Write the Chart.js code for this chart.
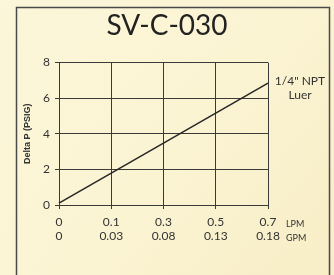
<!DOCTYPE html>
<html>
<head>
<meta charset="utf-8">
<script src="https://cdn.jsdelivr.net/npm/chart.js@4"></script>
<style>
  html, body { margin: 0; padding: 0; background: #fbf5d8; }
  #wrap { width: 334px; height: 275px; }
</style>
</head>
<body>
<div id="wrap"><canvas id="chart" width="334" height="275"></canvas></div>
<script>
var title_text = "SV-C-030";
var y_title = "Delta P (PSIG)";
var lpm_labels = ["0", "0.1", "0.3", "0.5", "0.7"];
var gpm_labels = ["0", "0.03", "0.08", "0.13", "0.18"];
var flow_pos = [0, 4];          // index on the flow axis
var delta_p = [0.1, 6.85];      // psig
var series_label = ["1/4\" NPT", "Luer"];
var unit_labels = ["LPM", "GPM"];

var txt_clr = "#333333";
var line_clr = "#262626";
var grid_clr = "#3a3a3a";

// background + panel frame
var panel_bg = {
  id: "panel_bg",
  beforeDraw: function(chart) {
    var c = chart.ctx;
    var g = c.createLinearGradient(0, 0, chart.width, chart.height);
    g.addColorStop(0, "#fcf6da");
    g.addColorStop(0.5, "#fbf4d3");
    g.addColorStop(1, "#f8eec7");
    c.save();
    c.fillStyle = g;
    c.fillRect(0, 0, chart.width, chart.height);
    c.strokeStyle = "#4a4a4a";
    c.lineWidth = 1.5;
    c.beginPath();
    c.moveTo(16.5, chart.height + 2);
    c.lineTo(16.5, 7.5);
    c.lineTo(329.5, 7.5);
    c.lineTo(329.5, chart.height + 2);
    c.stroke();
    c.restore();
  }
};

// side labels: series name and units
var side_text = {
  id: "side_text",
  afterDraw: function(chart) {
    var c = chart.ctx;
    var xs = chart.scales.x;
    var ys = chart.scales.y;
    var last = chart.data.datasets[0].data[1];
    var px = xs.right + 32;
    var py = ys.getPixelForValue(last.y);
    c.save();
    c.fillStyle = txt_clr;
    c.textAlign = "center";
    c.textBaseline = "middle";
    c.font = "12px Lato";
    c.fillText(series_label[0], px, py - 2);
    c.fillText(series_label[1], px, py + 12);
    c.textAlign = "left";
    c.font = "9px Lato";
    c.fillText(unit_labels[0], xs.right + 18, ys.bottom + 19);
    c.fillText(unit_labels[1], xs.right + 18, ys.bottom + 33);
    c.restore();
  }
};

var pts = flow_pos.map(function(v, i) { return {x: v, y: delta_p[i]}; });

new Chart(document.getElementById("chart"), {
  type: "scatter",
  data: {
    datasets: [{
      data: pts,
      showLine: true,
      borderColor: line_clr,
      borderWidth: 1.5,
      pointRadius: 0,
      clip: false
    }]
  },
  options: {
    responsive: false,
    animation: false,
    layout: { padding: 0 },
    plugins: {
      legend: { display: false },
      tooltip: { enabled: false },
      title: {
        display: true,
        text: title_text,
        color: "#222222",
        font: { family: "Lato", size: 28, weight: "normal" },
        padding: { top: 9, bottom: 20 }
      }
    },
    scales: {
      x: {
        type: "linear",
        min: 0,
        max: 4,
        afterFit: function(s) { s.height = 70; },
        ticks: {
          stepSize: 1,
          autoSkip: false,
          maxRotation: 0,
          color: txt_clr,
          padding: 6,
          font: { family: "Lato", size: 12, lineHeight: 1.2 },
          callback: function(value) { return [lpm_labels[value], gpm_labels[value]]; }
        },
        grid: { color: grid_clr, lineWidth: 1, tickLength: 4 },
        border: { color: grid_clr, width: 1 }
      },
      y: {
        min: 0,
        max: 8,
        afterFit: function(s) { s.width = 59; },
        ticks: {
          stepSize: 2,
          color: txt_clr,
          padding: 5,
          font: { family: "Lato", size: 12 }
        },
        grid: { color: grid_clr, lineWidth: 1, tickLength: 4 },
        border: { color: grid_clr, width: 1 },
        title: {
          display: true,
          text: y_title,
          color: txt_clr,
          padding: { top: 22, bottom: 0 },
          font: { family: "Liberation Sans", size: 9, weight: "bold" }
        }
      },
      // empty right-hand strip that holds the series name and units
      side: {
        position: "right",
        min: 0,
        max: 1,
        afterFit: function(s) { s.width = 66; },
        ticks: { display: false },
        grid: { display: false },
        border: { display: false }
      }
    }
  },
  plugins: [panel_bg, side_text]
});
</script>
</body>
</html>
